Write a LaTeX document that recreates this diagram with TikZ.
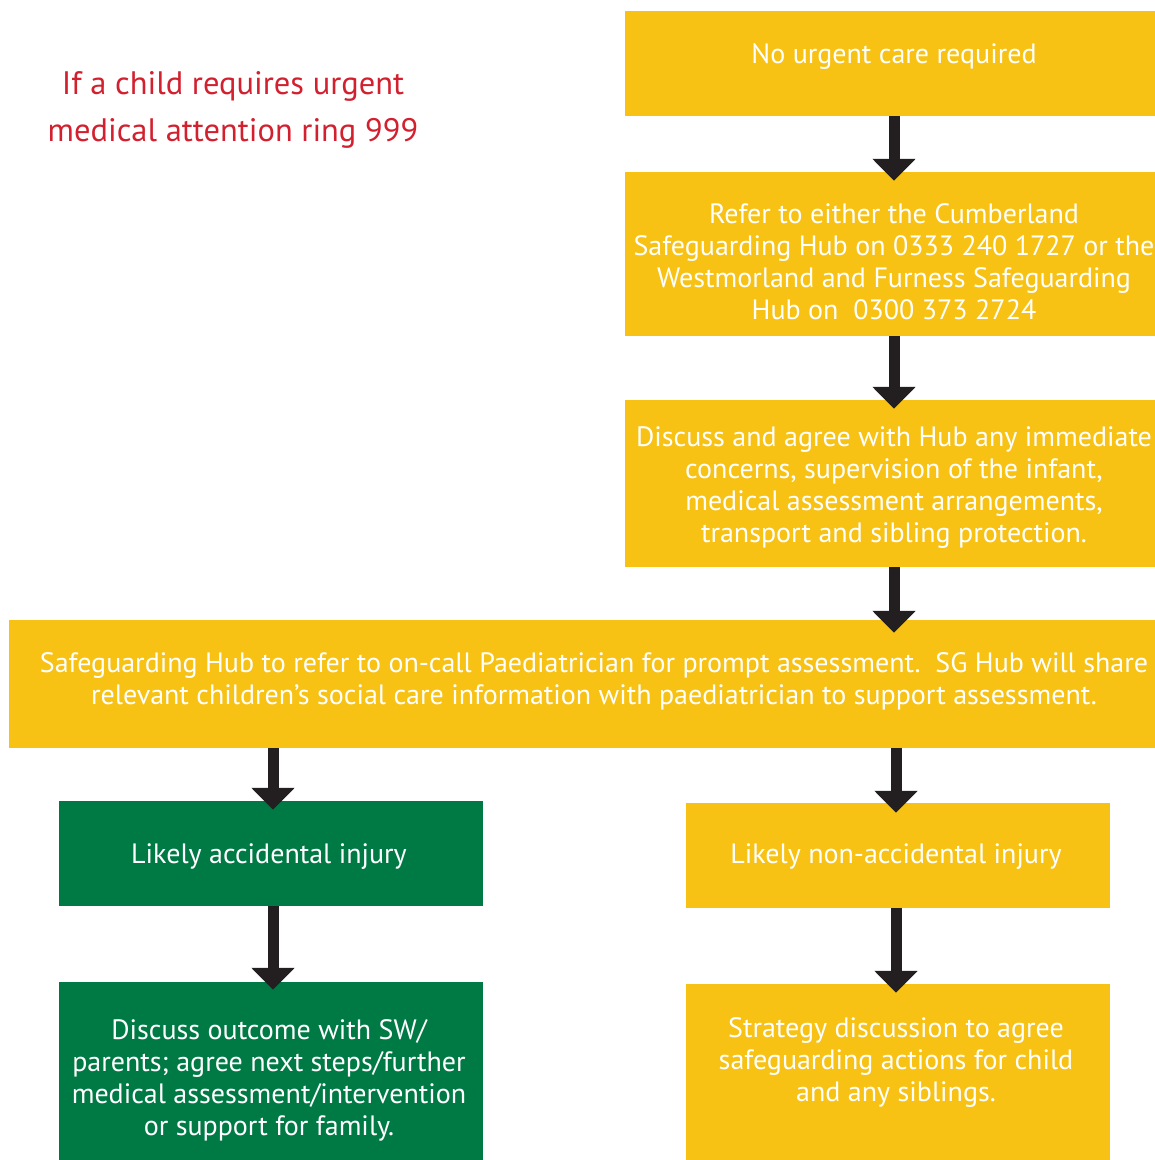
\documentclass[tikz,border=0pt]{standalone}
\usepackage{fontspec}
\setmainfont{PT Sans}
\usetikzlibrary{arrows.meta}
\definecolor{hubyellow}{HTML}{F7C214}
\definecolor{hubgreen}{HTML}{007A45}
\definecolor{hubred}{HTML}{D2202F}
\definecolor{arrowdark}{HTML}{231F20}
\tikzset{
  box/.style={rectangle, inner sep=0pt},
  ybox/.style={box, fill=hubyellow},
  gbox/.style={box, fill=hubgreen},
  txt/.style={inner sep=0pt, align=center, text=white,
    font=\fontsize{28}{32}\selectfont},
  flow/.style={draw=arrowdark, line width=11pt,
    -{Triangle[width=42pt 0, length=22pt 0, fill=arrowdark]}, shorten >=-9pt},
}
\begin{document}
\begin{tikzpicture}[x=1pt, y=-1pt]
\useasboundingbox (0,0) rectangle (1155,1160);
\node[font=\fontsize{32.5}{47}\selectfont, text=hubred, align=center] (warn) at (233,110)
  {If a child requires urgent\\medical attention ring 999};
\node[ybox, minimum width=530pt, minimum height=105pt] (b1) at (890,63.5) {};
\node[ybox, minimum width=530pt, minimum height=164pt] (b2) at (890,254) {};
\node[ybox, minimum width=530pt, minimum height=167pt] (b3) at (890,483.5) {};
\node[ybox, minimum width=1146pt, minimum height=128pt] (b4) at (582,684) {};
\node[gbox, minimum width=424pt, minimum height=105pt] (b5) at (271,853.5) {};
\node[ybox, minimum width=424pt, minimum height=105pt] (b6) at (898,855.5) {};
\node[gbox, minimum width=424pt, minimum height=178pt] (b7) at (271,1071) {};
\node[ybox, minimum width=424pt, minimum height=176pt] (b8) at (898,1072) {};
\node[txt] (t1) at ([xshift=4pt, yshift=7pt]b1.center) {No urgent care required};
\node[txt] (t2) at ([xshift=4pt, yshift=-8pt]b2.center)
  {Refer to either the Cumberland\\Safeguarding Hub on 0333 240 1727 or the\\Westmorland and Furness Safeguarding\\Hub on\ \ 0300 373 2724};
\node[txt] (t3) at ([xshift=4pt, yshift=-4.5pt]b3.center)
  {Discuss and agree with Hub any immediate\\concerns, supervision of the infant,\\medical assessment arrangements,\\transport and sibling protection.};
\node[txt] (t4) at ([xshift=12pt, yshift=3pt]b4.center)
  {Safeguarding Hub to refer to on-call Paediatrician for prompt assessment.\ \ SG Hub will share\\relevant children’s social care information with paediatrician to support assessment.};
\node[txt] (t5) at ([xshift=-2pt, yshift=-3pt]b5.center) {Likely accidental injury};
\node[txt] (t6) at ([xshift=-2pt, yshift=-1pt]b6.center) {Likely non-accidental injury};
\node[txt] (t7) at ([xshift=-2pt, yshift=-9pt]b7.center)
  {Discuss outcome with SW/\\parents; agree next steps/further\\medical assessment/intervention\\or support for family.};
\node[txt] (t8) at ([xshift=-2pt, yshift=10pt]b8.center)
  {Strategy discussion to agree\\safeguarding actions for child\\and any siblings.};
\draw[flow] ([xshift=4pt]b1.south) -- ([xshift=4pt]b2.north);
\draw[flow] ([xshift=4pt]b2.south) -- ([xshift=4pt]b3.north);
\draw[flow, shorten >=-13pt] ([xshift=4pt]b3.south) -- ([xshift=4pt]b3.south |- b4.north);
\draw[flow] (b5.north |- b4.south) ++(2pt,0) -- ([xshift=2pt]b5.north);
\draw[flow, shorten >=-10pt] (b6.north |- b4.south) ++(-2pt,0) -- ([xshift=-2pt]b6.north);
\draw[flow, shorten >=-8pt] ([xshift=2pt]b5.south) -- ([xshift=2pt]b7.north);
\draw[flow] ([xshift=-2pt]b6.south) -- ([xshift=-2pt]b8.north);
\end{tikzpicture}
\end{document}
